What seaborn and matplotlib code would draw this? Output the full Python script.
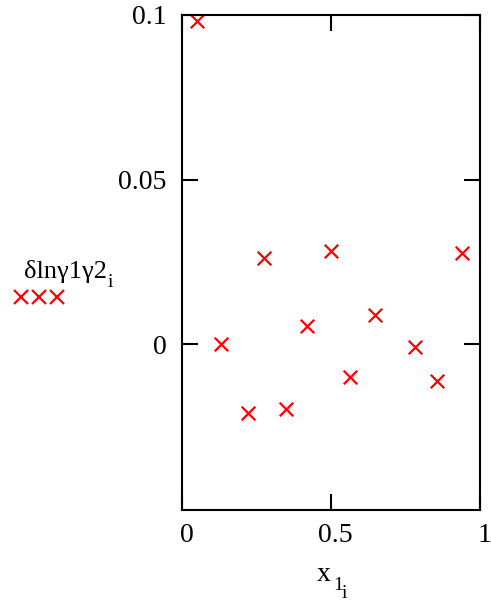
import matplotlib
matplotlib.use("Agg")
import matplotlib.pyplot as plt
import matplotlib.transforms as mtransforms
from matplotlib.lines import Line2D
import seaborn as sns

# values
x1 = [0.051, 0.130, 0.223, 0.276, 0.348, 0.418, 0.499, 0.564, 0.648, 0.783, 0.856, 0.939]
dlng = [0.0981, 0.0, -0.0208, 0.0261, -0.0197, 0.0056, 0.0283, -0.0099, 0.0089, -0.0009, -0.0111, 0.0278]
x_ticks = [0, 0.5, 1]
x_tick_labels = ["0", "0.5", "1"]
y_ticks = [0, 0.05, 0.1]
y_tick_labels = ["0", "0.05", "0.1"]

W, H = 491, 603
RED = "#ff0000"
FS = 20
FS_SUB = 14

sns.set_theme(style="white")
plt.rcParams["font.family"] = ["Liberation Serif", "DejaVu Serif"]
plt.rcParams["text.color"] = "black"


def px(x, y):
    # pixel position (from top-left) -> figure fraction
    return x / W, 1 - y / H


fig = plt.figure(figsize=(W / 100, H / 100), dpi=100)
ax = fig.add_axes([182 / W, (H - 510) / H, 298 / W, 495 / H])

sns.scatterplot(x=x1, y=dlng, ax=ax, marker="x", color=RED, s=95,
                linewidth=1.6, legend=False)

ax.set_xlim(0, 1)
ax.set_ylim(-0.0504, 0.1)
ax.set_xticks(x_ticks)
ax.set_xticklabels(x_tick_labels)
ax.set_yticks(y_ticks)
ax.set_yticklabels(y_tick_labels)

for s in ax.spines.values():
    s.set_visible(True)
    s.set_color("black")
    s.set_linewidth(1.5)

ax.tick_params(axis="both", which="both", direction="in", length=11.5, width=1.5,
               color="black", labelsize=FS, labelcolor="black",
               top=True, right=True, bottom=True, left=True)
ax.tick_params(axis="y", pad=11)
ax.tick_params(axis="x", pad=9)
shift = mtransforms.ScaledTranslation(4.5 / 100, 0, fig.dpi_scale_trans)
for lbl in ax.get_xticklabels():
    lbl.set_transform(lbl.get_transform() + shift)

# x axis label: x with nested subscripts 1, i
fig.text(*px(317, 581), "x", fontsize=FS, ha="left", va="baseline")
fig.text(*px(333.5, 590.5), "1", fontsize=FS_SUB, ha="left", va="baseline")
fig.text(*px(342, 597.5), "i", fontsize=FS_SUB, ha="left", va="baseline")

# y axis label with legend symbol underneath
ylab = fig.text(*px(24, 278), "δlnγ1γ2", fontsize=19, ha="left", va="baseline")
fig.canvas.draw()
right_px = ylab.get_window_extent().x1
fig.text((right_px + 0.5) / W, 1 - 287 / H, "i", fontsize=FS_SUB,
         ha="left", va="baseline")
lx, ly = zip(*[px(20.7, 297), px(39.3, 297), px(57.3, 297)])
fig.add_artist(Line2D(lx, ly, transform=fig.transFigure, ls="none", marker="x",
                      color=RED, markersize=9.5, markeredgewidth=1.6))

fig.savefig("out.png", dpi=100)
